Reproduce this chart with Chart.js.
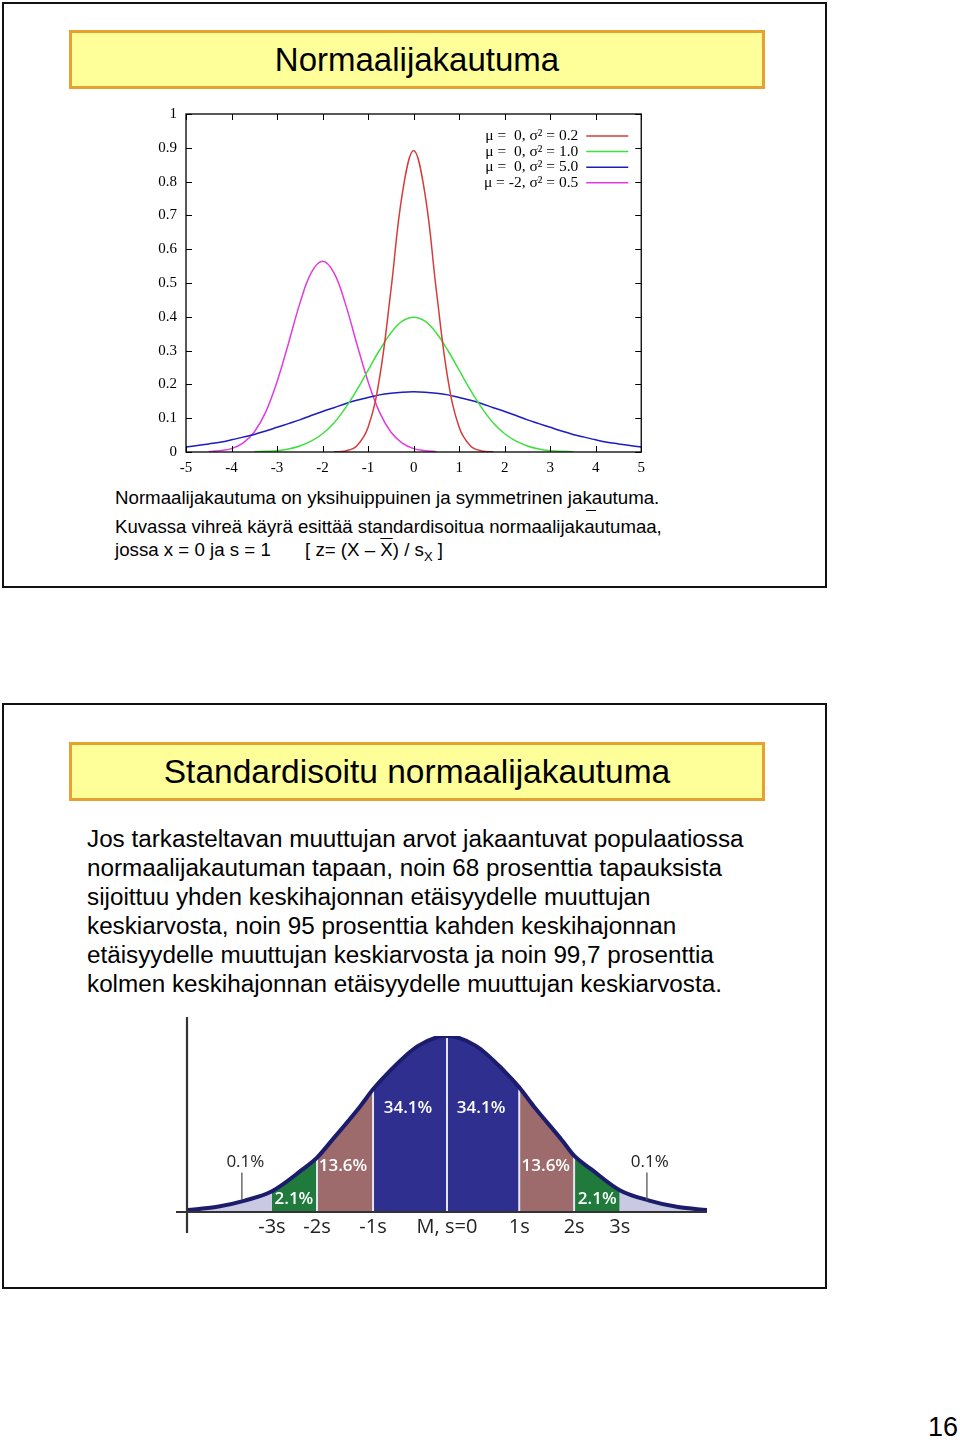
<!DOCTYPE html>
<html><head><meta charset="utf-8">
<script src="https://cdn.jsdelivr.net/npm/chart.js@4"></script>
<style>
body{margin:0;background:#fff;width:960px;height:1440px;position:relative;font-family:"Liberation Sans",Arial,sans-serif;overflow:hidden;}
.slide{position:absolute;left:2px;width:821px;height:582px;border:2px solid #111;background:#fff;}
.tbox{position:absolute;left:69px;width:690px;height:53px;background:#ffff99;border:3px solid #e8a030;text-align:center;line-height:53px;font-size:33px;color:#000;}
.t{position:absolute;white-space:nowrap;color:#000;}
canvas{position:absolute;}
</style></head><body>
<div class="slide" style="top:2px"></div>
<div class="tbox" style="top:30px">Normaalijakautuma</div>
<canvas id="c1" width="522" height="384" style="left:130px;top:96px;width:522px;height:384px"></canvas>
<div class="t" style="left:115px;top:487px;font-size:18.7px;line-height:22px">Normaalijakautuma on yksihuippuinen ja symmetrinen jakautuma.</div>
<div style="position:absolute;left:586px;top:510px;width:10px;height:1px;background:#000"></div>
<div class="t" style="left:115px;top:516px;font-size:18.6px;line-height:22px">Kuvassa vihreä käyrä esittää standardisoitua normaalijakautumaa,</div>
<div class="t" style="left:115px;top:539px;font-size:18.7px;line-height:22px">jossa x = 0 ja s = 1</div>
<div class="t" style="left:305px;top:539px;font-size:18.7px;line-height:22px">[ z= (X – <span style="text-decoration:overline">X</span>) / s<sub style="font-size:13px">X</sub> ]</div>

<div class="slide" style="top:703px"></div>
<div class="tbox" style="top:742px;font-size:33.5px">Standardisoitu normaalijakautuma</div>
<div class="t" style="left:87px;top:824px;font-size:24.25px;line-height:29px">Jos tarkasteltavan muuttujan arvot jakaantuvat populaatiossa<br>normaalijakautuman tapaan, noin 68 prosenttia tapauksista<br>sijoittuu yhden keskihajonnan etäisyydelle muuttujan<br>keskiarvosta, noin 95 prosenttia kahden keskihajonnan<br>etäisyydelle muuttujan keskiarvosta ja noin 99,7 prosenttia<br>kolmen keskihajonnan etäisyydelle muuttujan keskiarvosta.</div>
<canvas id="c2" width="550" height="250" style="left:170px;top:1000px;width:550px;height:250px"></canvas>
<div class="t" style="left:928px;top:1411px;font-size:27px;line-height:32px">16</div>

<script>
// ---- Chart 1 data ----
const xs = [-5,-4.75,-4.5,-4.25,-4,-3.75,-3.5,-3.25,-3,-2.75,-2.5,-2.25,-2,-1.75,-1.5,-1.25,-1,-0.75,-0.5,-0.25,0,0.25,0.5,0.75,1,1.25,1.5,1.75,2,2.25,2.5,2.75,3,3.25,3.5,3.75,4,4.25,4.5,4.75,5];
const redVar02 = [null,null,null,null,null,null,null,null,null,null,null,null,null,0.0004,0.003,0.018,0.073,0.218,0.477,0.763,0.892,0.763,0.477,0.218,0.073,0.018,0.003,0.0004,null,null,null,null,null,null,null,null,null,null,null,null,null];
const greenVar10 = [null,null,null,null,null,null,0.001,0.002,0.004,0.009,0.018,0.032,0.054,0.086,0.130,0.183,0.242,0.301,0.352,0.387,0.399,0.387,0.352,0.301,0.242,0.183,0.130,0.086,0.054,0.032,0.018,0.009,0.004,0.002,0.001,null,null,null,null,null,null];
const blueVar50 = [0.015,0.019,0.024,0.029,0.036,0.044,0.052,0.062,0.073,0.084,0.095,0.108,0.120,0.131,0.143,0.153,0.161,0.169,0.174,0.177,0.178,0.177,0.174,0.169,0.161,0.153,0.143,0.131,0.120,0.108,0.095,0.084,0.073,0.062,0.052,0.044,0.036,0.029,0.024,0.019,0.015];
const magentaMu2 = [null,null,0.001,0.004,0.010,0.026,0.059,0.118,0.208,0.321,0.439,0.530,0.564,0.530,0.439,0.321,0.208,0.118,0.059,0.026,0.010,0.004,0.001,null,null,null,null,null,null,null,null,null,null,null,null,null,null,null,null,null,null];
const seriesLabels = ['μ =  0, σ² = 0.2','μ =  0, σ² = 1.0','μ =  0, σ² = 5.0','μ = -2, σ² = 0.5'];
const seriesColors = ['#d43c3c','#3ee03e','#1c1cc0','#e03ce0'];
const xTickLabels = ['-5','-4','-3','-2','-1','0','1','2','3','4','5'];
const yTickLabels = ['0','0.1','0.2','0.3','0.4','0.5','0.6','0.7','0.8','0.9','1'];

// ---- Chart 2 data (x in picture units, y in % of peak) ----
const zs   = [-4.5,-4,-3.5,-3.03,-2.5,-2.25,-2,-1.5,-1.28,-1,-0.5,0,0.5,1,1.25,1.5,2,2.2,2.5,2.99,3.5,4,4.5];
const bell = [1.1,2.8,6.5,11.8,24.2,30.9,40.4,60.1,69.7,79.8,94.4,100,94.4,79.8,70.8,60.1,40.4,32.0,24.2,12.4,6.5,2.8,1.1];
const regionBounds = [[-4.5,-3.03],[-3.03,-2.25],[-2.25,-1.28],[-1.28,1.25],[1.25,2.2],[2.2,2.99],[2.99,4.5]];
const regionColors = ['#c9c9e4','#1f7a3c','#9d6b6b','#2f2f8f','#9d6b6b','#1f7a3c','#c9c9e4'];
const dividers = [-2.25,-1.28,0,1.25,2.2];
const pctLabels = ['0.1%','2.1%','13.6%','34.1%','34.1%','13.6%','2.1%','0.1%'];
const sTicks = [-3.03,-2.25,-1.28,0,1.25,2.2,2.99];
const sLabels = ['-3s','-2s','-1s','M, s=0','1s','2s','3s'];

Chart.defaults.animation = false;

const toXY = arr => xs.map((x,i)=>({x, y: arr[i]}));
const series = [redVar02, greenVar10, blueVar50, magentaMu2];

const frame1 = {
  id:'frame1',
  afterDraw(chart){
    const {ctx, chartArea:a, scales:{x,y}} = chart;
    ctx.save();
    ctx.strokeStyle='#000'; ctx.lineWidth=1.3;
    ctx.strokeRect(a.left, a.top, a.right-a.left, a.bottom-a.top);
    ctx.lineWidth=1;
    ctx.beginPath();
    x.ticks.forEach(t=>{const p=Math.round(x.getPixelForValue(t.value))+0.5; ctx.moveTo(p,a.bottom); ctx.lineTo(p,a.bottom-6); ctx.moveTo(p,a.top); ctx.lineTo(p,a.top+6);});
    y.ticks.forEach(t=>{const p=Math.round(y.getPixelForValue(t.value))+0.5; ctx.moveTo(a.left,p); ctx.lineTo(a.left+6,p); ctx.moveTo(a.right,p); ctx.lineTo(a.right-6,p);});
    ctx.stroke();
    ctx.font = '15.5px "Liberation Serif", "Times New Roman", serif';
    ctx.textAlign='right'; ctx.textBaseline='middle'; ctx.fillStyle='#000';
    chart.data.datasets.forEach((ds,i)=>{
      const yy = a.top + 22 + i*15.6;
      ctx.fillText(ds.label, a.right-63, yy);
      ctx.strokeStyle = ds.borderColor; ctx.lineWidth=1.5;
      ctx.beginPath(); ctx.moveTo(a.right-55, yy); ctx.lineTo(a.right-13, yy); ctx.stroke();
    });
    ctx.restore();
  }
};

new Chart(document.getElementById('c1'), {
  type:'line',
  data:{ datasets: series.map((s,i)=>({label:seriesLabels[i], data:toXY(s), borderColor:seriesColors[i], borderWidth:1.5, pointRadius:0, tension:0.4, fill:false, spanGaps:false})) },
  options:{
    responsive:false, devicePixelRatio:1,
    layout:{padding:{top:9,right:8,left:0,bottom:0}},
    plugins:{legend:{display:false}, tooltip:{enabled:false}},
    scales:{
      x:{type:'linear', min:-5, max:5, grid:{display:false, drawTicks:false}, border:{display:false},
         ticks:{stepSize:1, color:'#000', padding:7, font:{family:'"Liberation Serif", serif', size:15}, maxRotation:0,
                callback:(v,i)=>xTickLabels[i]},
         afterFit(s){s.height=28;}},
      y:{min:0, max:1, grid:{display:false, drawTicks:false}, border:{display:false},
         ticks:{stepSize:0.1, color:'#000', padding:9, font:{family:'"Liberation Serif", serif', size:15},
                callback:(v,i)=>yTickLabels[i]},
         afterFit(s){s.width=56;}}
    }
  },
  plugins:[frame1]
});

// ---- Chart 2 ----
const bellXY = zs.map((z,i)=>({x:z, y:bell[i]}));
const valAt = z => bell[zs.indexOf(z)];
const datasets2 = [];
datasets2.push({data:bellXY, borderColor:'#1c1c6c', borderWidth:4, pointRadius:0, cubicInterpolationMode:'monotone', fill:false});
dividers.forEach(d=>datasets2.push({data:[{x:d,y:0},{x:d,y:valAt(d)}], borderColor:'#e6e6f2', borderWidth:2, pointRadius:0, tension:0, fill:false}));
regionBounds.forEach((b,i)=>datasets2.push({data:bellXY.filter(p=>p.x>=b[0]&&p.x<=b[1]), borderWidth:0, borderColor:'rgba(0,0,0,0)', backgroundColor:regionColors[i], pointRadius:0, cubicInterpolationMode:'monotone', fill:'origin'}));

const pctPos = [[-3.49,28.1,'#222'],[-2.65,7.3,'#fff'],[-1.80,25.8,'#fff'],[-0.675,59,'#fff'],[0.59,59,'#fff'],[1.71,25.8,'#fff'],[2.60,7.3,'#fff'],[3.51,28.1,'#222']];

const frame2 = {
  id:'frame2',
  afterDatasetsDraw(chart){
    const {ctx, chartArea:a, scales:{x,y}} = chart;
    ctx.save();
    ctx.strokeStyle='#333'; ctx.lineWidth=2.2;
    const by = y.getPixelForValue(0);
    ctx.beginPath(); ctx.moveTo(6,by); ctx.lineTo(537,by); ctx.stroke();
    ctx.beginPath(); ctx.moveTo(a.left,17); ctx.lineTo(a.left,233); ctx.stroke();
    ctx.strokeStyle='#555'; ctx.lineWidth=1.3;
    [-3.55,3.46].forEach(z=>{const p=x.getPixelForValue(z); ctx.beginPath(); ctx.moveTo(p,y.getPixelForValue(22.5)); ctx.lineTo(p,y.getPixelForValue(6.7)); ctx.stroke();});
    ctx.textAlign='center'; ctx.textBaseline='middle';
    pctPos.forEach((p,i)=>{ctx.font=(p[2]==='#fff'?'600 ':'')+'17px "Open Sans", sans-serif'; ctx.fillStyle=p[2]; ctx.fillText(pctLabels[i], x.getPixelForValue(p[0]), y.getPixelForValue(p[1]));});
    ctx.restore();
  }
};

new Chart(document.getElementById('c2'), {
  type:'line',
  data:{datasets:datasets2},
  options:{
    responsive:false, devicePixelRatio:1,
    layout:{padding:{top:36,right:13,left:17,bottom:0}},
    plugins:{legend:{display:false}, tooltip:{enabled:false}},
    scales:{
      x:{type:'linear', min:-4.5, max:4.5, grid:{display:false, drawTicks:false}, border:{display:false},
         afterBuildTicks(s){s.ticks = sTicks.map(v=>({value:v}));},
         ticks:{autoSkip:false, maxRotation:0, color:'#222', padding:3, font:{family:'"Open Sans", sans-serif', size:20},
                callback:(v,i)=>sLabels[i]},
         afterFit(s){s.height=38;}},
      y:{display:false, min:0, max:100}
    }
  },
  plugins:[frame2]
});
</script>
</body></html>
